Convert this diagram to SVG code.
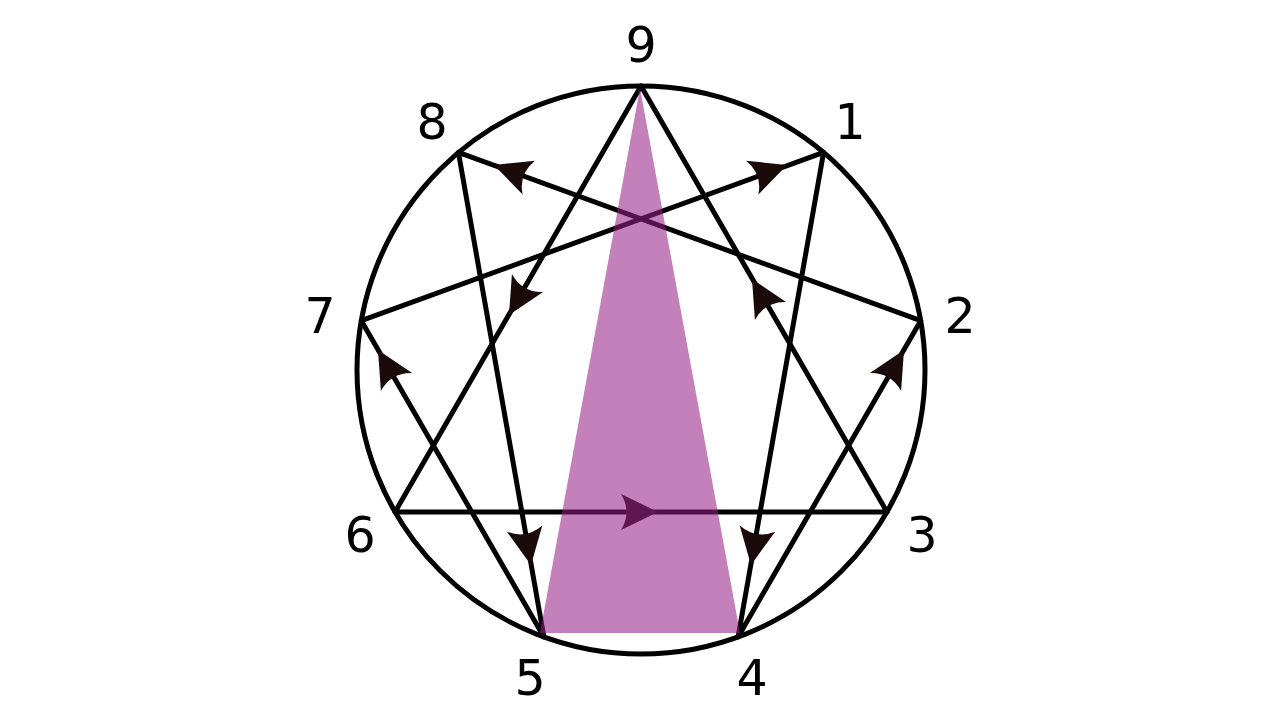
<svg xmlns="http://www.w3.org/2000/svg" xmlns:xlink="http://www.w3.org/1999/xlink" width="1280" height="720" viewBox="0 0 1280 720">
<style>
.ln{stroke:#000;stroke-width:5;fill:none;stroke-linecap:round;stroke-linejoin:round}
.lbl{font-family:"DejaVu Sans",sans-serif;font-size:49px;fill:#000;text-anchor:middle}
.ah{fill:#1a0a0a}
</style>
<defs>
<path id="arrow" d="M0,0 L-37,-18 Q-26,0 -37,18 Z"/>
</defs>
<rect width="1280" height="720" fill="#fff"/>
<g id="circle"><circle cx="641" cy="370" r="284" class="ln"/></g>
<g id="connectors">
<polyline class="ln" points="641,86 887,512 395,512 641,86"/>
<polyline class="ln" points="823.6,152.4 738.1,636.9 920.7,320.7 458.4,152.4 543.9,636.9 361.3,320.7 823.6,152.4"/>
<use href="#arrow" class="ah" transform="translate(658,512) rotate(0)"/>
<use href="#arrow" class="ah" transform="translate(509,315) rotate(120)"/>
<use href="#arrow" class="ah" transform="translate(752,279) rotate(-120)"/>
<use href="#arrow" class="ah" transform="translate(751,565) rotate(100)"/>
<use href="#arrow" class="ah" transform="translate(904,350) rotate(-60)"/>
<use href="#arrow" class="ah" transform="translate(494,165) rotate(200)"/>
<use href="#arrow" class="ah" transform="translate(787,165) rotate(-20)"/>
<use href="#arrow" class="ah" transform="translate(531,565) rotate(80)"/>
<use href="#arrow" class="ah" transform="translate(378,350) rotate(-120)"/>
</g>
<g id="highlight"><polygon points="640,88 540,633 740,633" fill="#952087" fill-opacity="0.57"/></g>
<g id="n9"><text class="lbl" x="641" y="62">9</text></g>
<g id="n1"><text class="lbl" x="850" y="139">1</text></g>
<g id="n2"><text class="lbl" x="960" y="333">2</text></g>
<g id="n3"><text class="lbl" x="922" y="552">3</text></g>
<g id="n4"><text class="lbl" x="752" y="695">4</text></g>
<g id="n5"><text class="lbl" x="530" y="695">5</text></g>
<g id="n6"><text class="lbl" x="360" y="552">6</text></g>
<g id="n7"><text class="lbl" x="320" y="333">7</text></g>
<g id="n8"><text class="lbl" x="432" y="139">8</text></g>
</svg>
